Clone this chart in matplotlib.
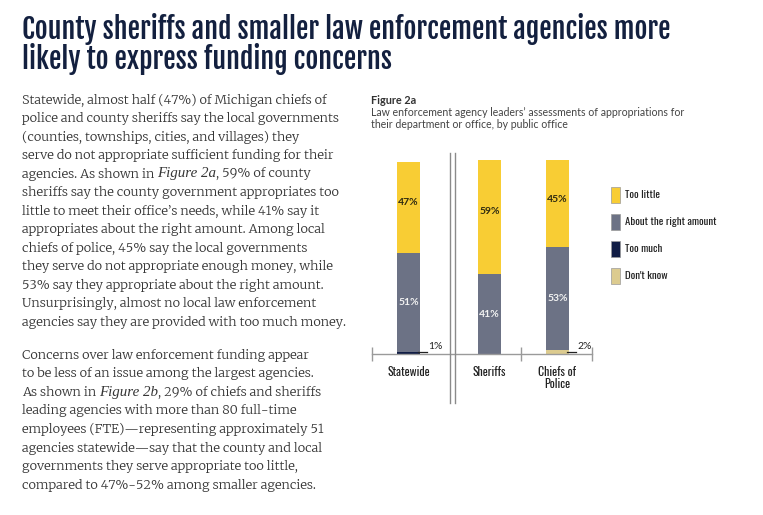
import matplotlib
matplotlib.use("Agg")
from matplotlib import pyplot as plt
from matplotlib.lines import Line2D
import numpy as np

# data
categories = ["Statewide", "Sheriffs", "Chiefs of\nPolice"]
too_little = [47, 59, 45]
about_right = [51, 41, 53]
too_much = [1, 0, 0]
dont_know = [0, 0, 2]
small_labels = ["1%", "", "2%"]
legend_names = ["Too little", "About the right amount", "Too much", "Don't know"]

title_lines = ["County sheriffs and smaller law enforcement agencies more",
               "likely to express funding concerns"]

para1 = [
    [("Statewide, almost half (47%) of Michigan chiefs of", "normal")],
    [("police and county sheriffs say the local governments", "normal")],
    [("(counties, townships, cities, and villages) they", "normal")],
    [("serve do not appropriate sufficient funding for their", "normal")],
    [("agencies. As shown in ", "normal"), ("Figure 2a", "italic"), (", 59% of county", "normal")],
    [("sheriffs say the county government appropriates too", "normal")],
    [("little to meet their office\u2019s needs, while 41% say it", "normal")],
    [("appropriates about the right amount. Among local", "normal")],
    [("chiefs of police, 45% say the local governments", "normal")],
    [("they serve do not appropriate enough money, while", "normal")],
    [("53% say they appropriate about the right amount.", "normal")],
    [("Unsurprisingly, almost no local law enforcement", "normal")],
    [("agencies say they are provided with too much money.", "normal")],
]
para2 = [
    [("Concerns over law enforcement funding appear", "normal")],
    [("to be less of an issue among the largest agencies.", "normal")],
    [("As shown in ", "normal"), ("Figure 2b", "italic"), (", 29% of chiefs and sheriffs", "normal")],
    [("leading agencies with more than 80 full-time", "normal")],
    [("employees (FTE)\u2014representing approximately 51", "normal")],
    [("agencies statewide\u2014say that the county and local", "normal")],
    [("governments they serve appropriate too little,", "normal")],
    [("compared to 47%-52% among smaller agencies.", "normal")],
]

YELLOW = "#F8CD34"
GREY = "#6C7285"
NAVY = "#111D45"
TAN = "#DCCB8F"
TITLE_C = "#13203F"
BODY_C = "#363636"

W, H = 763, 515
fig = plt.figure(figsize=(W / 100, H / 100), dpi=100)
fig.set_facecolor("white")
renderer = fig.canvas.get_renderer()

TITLE_F = ["Fjalla One", "DejaVu Sans"]
COND = ["Oswald", "DejaVu Sans"]
SERIF = ["Merriweather", "DejaVu Serif"]
SANS = ["Lato", "DejaVu Sans"]


def fx(x):
    return x / W


def fy(y):
    return 1 - y / H


# title
for i, line in enumerate(title_lines):
    fig.text(fx(22), fy(29 + 30 * i), line, family=TITLE_F,
             fontsize=20.2, color=TITLE_C, va="center")


def rich_line(x, y, parts):
    for s, st in parts:
        fam = SERIF if st == "normal" else ["Liberation Serif", "DejaVu Serif"]
        size = 9.2 if st == "normal" else 10.8
        t = fig.text(fx(x), fy(y), s, family=fam,
                     style=st, fontsize=size, color=BODY_C, va="center")
        x += t.get_window_extent(renderer).width


for i, parts in enumerate(para1):
    rich_line(22, 100 + 18.5 * i, parts)
for i, parts in enumerate(para2):
    rich_line(22, 355 + 18.6 * i, parts)

# figure heading
fig.text(fx(371), fy(100), "Figure 2a", family=SANS, fontweight="bold",
         fontsize=7.8, color="#333333", va="center")
fig.text(fx(371), fy(112), "Law enforcement agency leaders\u2019 assessments of appropriations for",
         family=SANS, fontsize=7.6, color="#444444", va="center")
fig.text(fx(371), fy(125), "their department or office, by public office",
         family=SANS, fontsize=7.6, color="#444444", va="center")

# chart axes: pixel box 372..592 x, 160..354 y
ax = fig.add_axes([fx(372), fy(354), (592 - 372) / W, (354 - 160) / H])
ax.set_xlim(0, 220)
ax.set_ylim(0, 100)
pos = np.array([36.5, 117.5, 185.5])
bw = 23

dk = np.array(dont_know)
tm = np.array(too_much)
ar = np.array(about_right)
tl = np.array(too_little)
ax.bar(pos, dk, bw, color=TAN, zorder=2)
ax.bar(pos, tm, bw, bottom=dk, color=NAVY, zorder=2)
ax.bar(pos, ar, bw, bottom=dk + tm, color=GREY, zorder=2)
ax.bar(pos, tl, bw, bottom=dk + tm + ar, color=YELLOW, zorder=2)

for i in range(3):
    b = dk[i] + tm[i]
    ax.text(pos[i], b + ar[i] / 2, f"{ar[i]}%", ha="center", va="center", color="#F2F2F2",
            family=SANS, fontweight="bold", fontsize=7.5)
    ax.text(pos[i], b + ar[i] + tl[i] * 0.55, f"{tl[i]}%", ha="center", va="center",
            color="#2E2A10", family=SANS, fontweight="bold", fontsize=7.5)
    if small_labels[i]:
        ax.plot([pos[i] + bw / 2 - 2, pos[i] + bw / 2 + 7], [1.2, 1.2], color="#222222", lw=0.9,
                zorder=3, clip_on=False)
        ax.text(pos[i] + bw / 2 + 8, 4.0, small_labels[i], ha="left", va="center", color="#222222",
                family=SANS, fontsize=7.5)

for s in ["top", "right", "left"]:
    ax.spines[s].set_visible(False)
ax.spines["bottom"].set_color("#9A9A9A")
ax.spines["bottom"].set_linewidth(1.0)
ax.set_yticks([])
ax.set_xticks([0, 149, 220])
ax.set_xticklabels([])
ax.tick_params(axis="x", direction="inout", length=10, width=1.0, color="#9A9A9A")
ax.patch.set_alpha(0)

for i, c in enumerate(categories):
    ax.text(pos[i], -6, c, ha="center", va="top", family=COND,
            fontsize=8.5, color="#222222", linespacing=1.0)

# double divider
for x in (450, 454.5):
    fig.add_artist(Line2D([fx(x), fx(x)], [fy(153), fy(403)], color="#8A8A8A", lw=1.0))

# legend
cols = [YELLOW, GREY, NAVY, TAN]
for i, (n, c) in enumerate(zip(legend_names, cols)):
    yc = 195 + 27 * i
    fig.add_artist(plt.Rectangle((fx(611), fy(yc + 8)), 9 / W, 16 / H, facecolor=c,
                                 edgecolor="#9A9A9A", lw=0.5))
    fig.text(fx(625), fy(yc), n, family=COND, fontsize=7.8,
             color="#222222", va="center")

fig.savefig("out.png", dpi=100, facecolor="white")
